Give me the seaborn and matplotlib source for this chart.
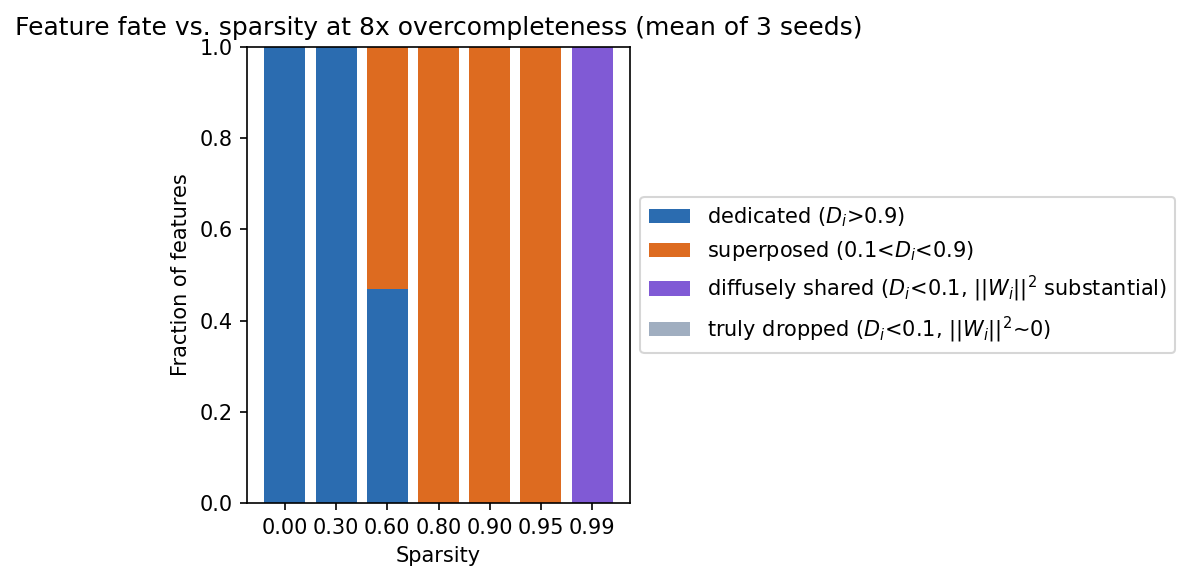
import numpy as np
import pandas as pd
import matplotlib
matplotlib.use("Agg")
import matplotlib.pyplot as plt
from matplotlib.patches import Patch
import seaborn as sns

# sparsity levels (x categories)
sparsity = ["0.00", "0.30", "0.60", "0.80", "0.90", "0.95", "0.99"]

# fraction of features in each fate, mean of 3 seeds
dedicated = [1.00, 1.00, 0.47, 0.00, 0.00, 0.00, 0.00]
superposed = [0.00, 0.00, 0.53, 1.00, 1.00, 1.00, 0.00]
diffuse = [0.00, 0.00, 0.00, 0.00, 0.00, 0.00, 1.00]
dropped = [0.00, 0.00, 0.00, 0.00, 0.00, 0.00, 0.00]

labels = [
    r"dedicated ($D_i$>0.9)",
    r"superposed (0.1<$D_i$<0.9)",
    r"diffusely shared ($D_i$<0.1, $||W_i||^2$ substantial)",
    r"truly dropped ($D_i$<0.1, $||W_i||^2$~0)",
]
colors = ["#2b6cb0", "#dd6b20", "#805ad5", "#a0aec0"]

df = pd.DataFrame({
    "sparsity": sparsity,
    "dedicated": dedicated,
    "superposed": superposed,
    "diffuse": diffuse,
    "dropped": dropped,
})
parts = ["dedicated", "superposed", "diffuse", "dropped"]
cum = df[parts].cumsum(axis=1)

fig = plt.figure(figsize=(1190 / 150, 581 / 150), dpi=150)
ax = fig.add_axes([0.2076, 0.1343, 0.3218, 0.7848])

# draw cumulative totals from the top layer down so they stack visually
for part, color in reversed(list(zip(parts, colors))):
    sns.barplot(x=df["sparsity"], y=cum[part], order=sparsity, color=color,
                saturation=1, width=0.8, linewidth=0, ax=ax)

ax.set_xlim(-0.74, 6.74)
ax.set_ylim(0, 1)
ax.set_xlabel("Sparsity")
ax.set_ylabel("Fraction of features")
ax.set_title("Feature fate vs. sparsity at 8x overcompleteness (mean of 3 seeds)")

handles = [Patch(facecolor=c, label=l) for c, l in zip(colors, labels)]
ax.legend(handles=handles, loc="center left", bbox_to_anchor=(1.0, 0.5))

fig.savefig("out.png", dpi=150)
